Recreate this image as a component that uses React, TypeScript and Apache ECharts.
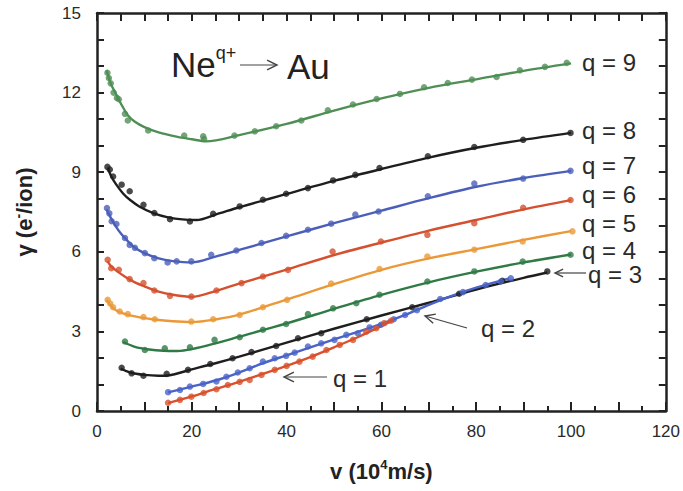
import React, { useEffect, useRef } from "react";
import * as echarts from "echarts";

// Axis tick labels
const xTickLabels = [0, 20, 40, 60, 80, 100, 120];
const yTickLabels = [0, 3, 6, 9, 12, 15];

// Measured points [v, gamma] for each charge state q
const dotsQ9 = [[2.2,12.75],[2.5,12.55],[2.9,12.35],[3.5,12.0],[4.2,11.8],[4.6,11.75],[5.9,11.2],[6.5,10.95],[10.8,10.57],[18.4,10.38],[22.4,10.35],[22.6,10.25],[29,10.38],[33.3,10.54],[37.8,10.73],[43.1,10.95],[48.7,11.33],[54,11.55],[59,11.76],[63.9,11.95],[69,12.2],[74,12.36],[79.1,12.49],[84.3,12.59],[89.2,12.84],[94.5,12.97],[99.1,13.12]];
const dotsQ8 = [[2.2,9.2],[2.7,9.1],[3.4,8.84],[5.2,8.53],[6.9,8.28],[9.8,7.77],[12.1,7.46],[15.4,7.23],[19.6,7.14],[24.5,7.43],[30.1,7.71],[35,7.96],[39.9,8.19],[44.5,8.4],[49.8,8.69],[54.5,8.9],[59.6,9.16],[69.8,9.6],[79.6,9.95],[89.9,10.22],[99.9,10.48]];
const dotsQ7 = [[2.1,7.65],[2.6,7.45],[3.1,7.15],[4.1,7.05],[5.9,6.52],[6.9,6.26],[8,6.15],[10.1,5.95],[12.1,5.76],[14.9,5.6],[16.8,5.64],[19.9,5.64],[24.1,5.89],[29.4,6.05],[34.7,6.33],[39.9,6.6],[44.5,6.83],[49.4,7.06],[54.5,7.4],[59.4,7.52],[69.8,8.09],[79.6,8.57],[89.9,8.76],[99.9,9.05]];
const dotsQ6 = [[2.25,5.7],[3.0,5.38],[4.6,5.32],[6.9,4.97],[9.8,4.82],[12.1,4.54],[15.4,4.34],[19.9,4.31],[25.2,4.54],[30.5,4.82],[35,5.07],[40.3,5.32],[49.7,6.01],[59.9,6.39],[69.7,6.64],[79.6,7.08],[89.9,7.66],[99.9,7.95]];
const dotsQ5 = [[2.25,4.19],[2.8,4.05],[3.4,3.91],[4.8,3.75],[6.5,3.65],[9.8,3.54],[12.2,3.46],[19.9,3.37],[24.5,3.46],[30.1,3.62],[35,3.91],[40.1,4.19],[49.4,4.8],[59.6,5.35],[69.7,5.82],[79.6,6.08],[89.8,6.39],[100.3,6.77]];
const dotsQ4 = [[5.9,2.62],[10.1,2.3],[14.3,2.36],[19.6,2.4],[24.8,2.68],[30.1,2.78],[35,3.06],[39.9,3.28],[44.5,3.65],[49.8,3.87],[54.7,4.06],[59.6,4.38],[69.7,4.88],[79.6,5.26],[89.8,5.63],[99.9,5.89]];
const dotsQ3 = [[5.2,1.63],[7.3,1.42],[9.8,1.33],[14.7,1.4],[19.2,1.55],[23.9,1.77],[28.6,1.99],[32.6,2.22],[37.8,2.45],[42.4,2.74],[47.3,2.93],[56.9,3.46],[66.5,3.91],[76.4,4.42],[85.5,4.91],[95,5.26]];
const dotsQ2 = [[15,0.71],[17.5,0.79],[19.6,0.92],[22.4,1.02],[25.2,1.11],[27.3,1.29],[29.7,1.45],[32.2,1.61],[35,1.86],[37.5,1.99],[39.9,2.08],[41.7,2.2],[44.5,2.43],[47.3,2.55],[50.1,2.68],[52.6,2.87],[55,2.93],[57.5,3.15],[59.9,3.25],[62.6,3.46],[65,3.62],[67.5,3.8],[72.4,4.22],[77.2,4.48],[82,4.75],[85.2,4.88],[87.3,5.0]];
const dotsQ1 = [[15,0.31],[17.5,0.42],[19.9,0.54],[22.5,0.68],[25.2,0.82],[27.6,0.98],[30.1,1.1],[32.2,1.17],[34.7,1.36],[37.5,1.55],[40,1.7],[42.7,1.86],[45.5,2.05],[48.4,2.3],[51.2,2.49],[54,2.68],[56.8,2.99],[58.9,3.12],[60.6,3.31],[62,3.4]];

// Fitted curves (knots)
const fitQ9 = [[2,12.85],[3,12.3],[4,11.95],[5,11.6],[6.5,11.15],[8,10.9],[10,10.7],[13,10.5],[17,10.33],[20,10.24],[23,10.16],[30,10.4],[40,10.82],[50,11.32],[60,11.78],[70,12.18],[80,12.5],[90,12.82],[100,13.1]];
const fitQ8 = [[2.3,9.15],[3,8.85],[4,8.55],[5.5,8.2],[7,7.95],[9,7.7],[12,7.45],[15,7.3],[18,7.22],[21,7.2],[25,7.4],[30,7.68],[40,8.18],[50,8.67],[60,9.12],[70,9.55],[80,9.92],[90,10.22],[100,10.48]];
const fitQ7 = [[2,7.6],[3,7.25],[4,6.95],[5,6.7],[6.5,6.4],[8,6.15],[10,5.95],[13,5.75],[16,5.65],[20,5.6],[25,5.82],[30,6.07],[40,6.58],[50,7.08],[60,7.55],[70,8.02],[80,8.45],[90,8.78],[100,9.05]];
const fitQ6 = [[2.2,5.65],[3,5.45],[4,5.3],[6,5.05],[8,4.85],[10,4.7],[13,4.5],[16,4.38],[20,4.3],[25,4.52],[30,4.8],[40,5.33],[50,5.88],[60,6.35],[70,6.8],[80,7.2],[90,7.6],[100,7.95]];
const fitQ5 = [[2,4.2],[3,3.95],[4,3.8],[6,3.65],[9,3.53],[12,3.45],[16,3.38],[20,3.35],[25,3.45],[30,3.63],[40,4.2],[50,4.78],[60,5.32],[70,5.75],[80,6.1],[90,6.45],[100,6.78]];
const fitQ4 = [[5.5,2.6],[8,2.42],[11,2.32],[14,2.27],[17,2.26],[20,2.33],[25,2.55],[30,2.8],[40,3.3],[50,3.85],[60,4.38],[70,4.85],[80,5.25],[90,5.6],[100,5.9]];
const fitQ3 = [[5,1.6],[7,1.45],[10,1.36],[13,1.33],[15,1.34],[20,1.57],[25,1.8],[30,2.05],[40,2.58],[50,3.1],[60,3.6],[70,4.08],[80,4.58],[90,5.02],[95,5.22]];
const fitQ2 = [[15,0.7],[20,0.92],[25,1.15],[30,1.45],[35,1.8],[40,2.1],[45,2.4],[50,2.7],[55,2.98],[60,3.28],[65,3.62],[70,4.0],[75,4.35],[80,4.65],[87,5.0]];
const fitQ1 = [[15,0.3],[20,0.55],[25,0.83],[30,1.1],[35,1.4],[40,1.7],[45,2.03],[50,2.4],[55,2.78],[60,3.2],[62.5,3.42]];

const chargeStates = [9, 8, 7, 6, 5, 4, 3, 2, 1];
const seriesColors = ["#4f8f55", "#1e1e1e", "#4b5fb8", "#d4502e", "#eb9838", "#2f7a45", "#1e1e1e", "#4a63c8", "#d9502c"];
const allDots = [dotsQ9, dotsQ8, dotsQ7, dotsQ6, dotsQ5, dotsQ4, dotsQ3, dotsQ2, dotsQ1];
const allFits = [fitQ9, fitQ8, fitQ7, fitQ6, fitQ5, fitQ4, fitQ3, fitQ2, fitQ1];

const FONT = "'Liberation Sans', Arial, Helvetica, sans-serif";
const INK = "#222222";

export default function App() {
  const ref = useRef<HTMLDivElement>(null);

  useEffect(() => {
    if (!ref.current) return;
    const chart = echarts.init(ref.current, undefined, { renderer: "svg" });

    const series: any[] = [];
    chargeStates.forEach((q, i) => {
      series.push({
        name: `q = ${q} fit`,
        type: "line",
        data: allFits[i],
        smooth: 0.3,
        showSymbol: false,
        lineStyle: { color: seriesColors[i], width: 2.4 },
        z: 3,
      });
      series.push({
        name: `q = ${q}`,
        type: "scatter",
        data: allDots[i],
        symbol: "circle",
        symbolSize: 6.5,
        itemStyle: { color: seriesColors[i] },
        z: 4,
      });
    });

    const xAxisBase = {
      type: "value",
      min: 0,
      max: 120,
      interval: 10,
      splitLine: { show: false },
      axisLine: { show: true, onZero: false, lineStyle: { color: INK, width: 2.5 } },
      axisTick: { show: true, inside: true, length: 9, lineStyle: { color: INK, width: 2 } },
      minorTick: { show: true, splitNumber: 2, length: 5, lineStyle: { color: INK, width: 2 } },
    };
    const yAxisBase = {
      type: "value",
      min: 0,
      max: 15,
      interval: 3,
      splitLine: { show: false },
      axisLine: { show: true, onZero: false, lineStyle: { color: INK, width: 2.5 } },
      axisTick: { show: true, inside: true, length: 7, lineStyle: { color: INK, width: 2 } },
      minorTick: { show: true, splitNumber: 3, length: 7, lineStyle: { color: INK, width: 2 } },
    };

    const qLabel = (text: string, x: number, y: number) => ({
      type: "text",
      x,
      y,
      style: { text, fontSize: 24, fontFamily: FONT, fill: "#2a2a2a", verticalAlign: "middle", align: "left" },
      z: 10,
    });
    const arrow = (x1: number, y1: number, x2: number, y2: number, head: number) => {
      const ang = Math.atan2(y1 - y2, x1 - x2);
      const a1 = ang + 0.45;
      const a2 = ang - 0.45;
      return [
        { type: "line", shape: { x1, y1, x2, y2 }, style: { stroke: "#444", lineWidth: 1.2 }, z: 10 },
        {
          type: "polyline",
          shape: {
            points: [
              [x2 + head * Math.cos(a1), y2 + head * Math.sin(a1)],
              [x2, y2],
              [x2 + head * Math.cos(a2), y2 + head * Math.sin(a2)],
            ],
          },
          style: { stroke: "#444", lineWidth: 1.4, fill: null },
          z: 10,
        },
      ];
    };

    const option: any = {
      animation: false,
      textStyle: { fontFamily: FONT },
      grid: { left: 97, right: 16, top: 13, bottom: 80, containLabel: false },
      xAxis: [
        {
          ...xAxisBase,
          position: "bottom",
          name: "v (10{sup|4}m/s)",
          nameLocation: "middle",
          nameGap: 47,
          nameTextStyle: {
            color: "#222",
            fontFamily: FONT,
            fontSize: 22,
            fontWeight: "bold",
            lineHeight: 26,
            rich: {
              sup: { fontSize: 13, fontWeight: "bold", fontFamily: FONT, color: "#222", verticalAlign: "top", lineHeight: 14 },
            },
          },
          axisLabel: {
            show: true,
            margin: 12,
            color: "#2a2a2a",
            fontSize: 17,
            fontFamily: FONT,
            formatter: (v: number) => (xTickLabels.includes(v) ? String(v) : ""),
          },
        },
        {
          ...xAxisBase,
          position: "top",
          axisLabel: { show: false },
          axisTick: { ...xAxisBase.axisTick, length: 8 },
          minorTick: { ...xAxisBase.minorTick, length: 8 },
        },
      ],
      yAxis: [
        {
          ...yAxisBase,
          position: "left",
          name: "γ (e{sup|-}/ion)",
          nameLocation: "middle",
          nameRotate: 90,
          nameGap: 60,
          nameTextStyle: {
            color: "#222",
            fontFamily: FONT,
            fontSize: 22,
            fontWeight: "bold",
            lineHeight: 26,
            rich: {
              sup: { fontSize: 14, fontWeight: "bold", fontFamily: FONT, color: "#222", verticalAlign: "top", lineHeight: 14 },
            },
          },
          axisLabel: {
            show: true,
            margin: 16,
            color: "#2a2a2a",
            fontSize: 17,
            fontFamily: FONT,
            formatter: (v: number) => (yTickLabels.includes(v) ? String(v) : ""),
          },
        },
        {
          ...yAxisBase,
          position: "right",
          axisLabel: { show: false },
        },
      ],
      series,
      graphic: [
        // title: Ne^{q+} -> Au
        {
          type: "text",
          x: 171,
          y: 64,
          style: {
            text: "Ne{sup|q+}",
            fontSize: 35,
            lineHeight: 40,
            fontFamily: FONT,
            fill: "#222",
            verticalAlign: "middle",
            rich: {
              sup: { fontSize: 18, lineHeight: 18, fontFamily: FONT, fill: "#222", verticalAlign: "top" },
            },
          },
          z: 10,
        },
        ...arrow(240, 65, 277, 65, 11),
        { type: "text", x: 287, y: 66, style: { text: "Au", fontSize: 35, fontFamily: FONT, fill: "#222", verticalAlign: "middle" }, z: 10 },
        // charge state labels
        qLabel("q = 9", 582, 62),
        qLabel("q = 8", 582, 130),
        qLabel("q = 7", 582, 165),
        qLabel("q = 6", 582, 194),
        qLabel("q = 5", 582, 223),
        qLabel("q = 4", 582, 250),
        qLabel("q = 3", 588, 274),
        ...arrow(586, 273, 555, 273, 9),
        qLabel("q = 2", 481, 328),
        ...arrow(467, 328, 425, 316, 11),
        qLabel("q = 1", 333, 378),
        ...arrow(327, 377, 284, 377, 11),
      ],
    };

    chart.setOption(option);
    return () => chart.dispose();
  }, []);

  return (
    <div
      ref={ref}
      style={{ position: "fixed", left: 0, top: 0, width: 683, height: 491, background: "#ffffff" }}
    />
  );
}
